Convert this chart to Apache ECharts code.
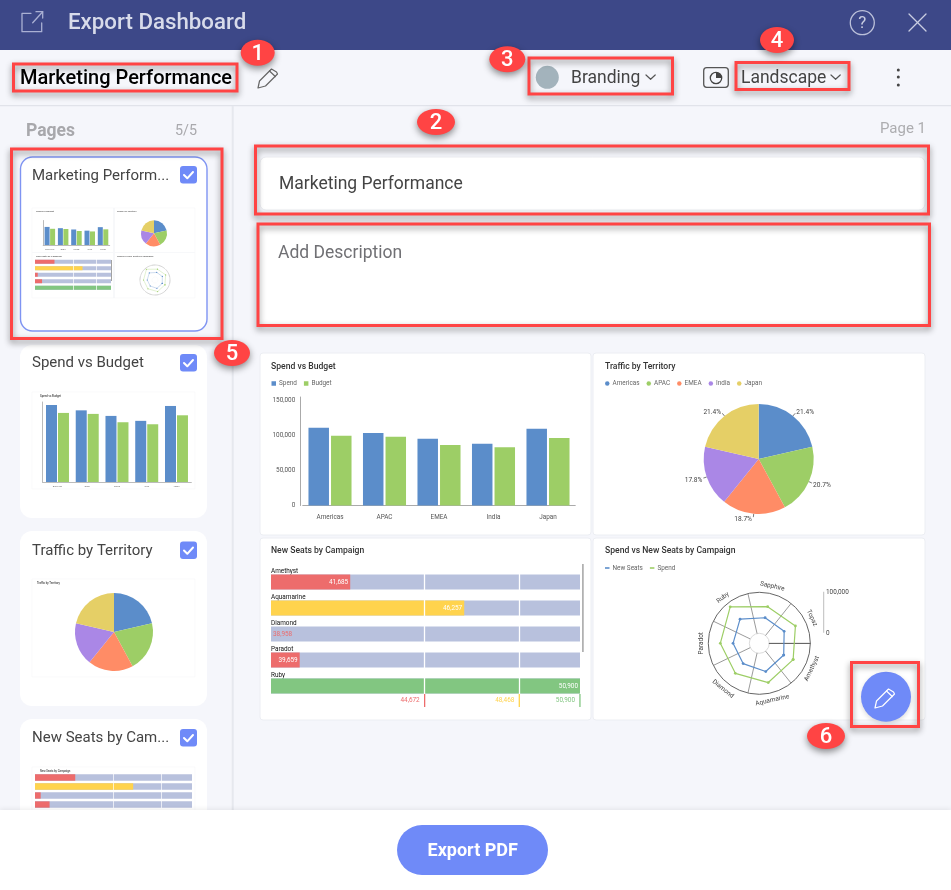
<!DOCTYPE html>
<html><head><meta charset="utf-8"><title>Export Dashboard</title>
<style>html,body{margin:0;padding:0;background:#f5f6fb}#c{width:951px;height:890px}</style>
<script src="https://cdn.jsdelivr.net/npm/echarts@6/dist/echarts.min.js"></script></head>
<body><div id="c"></div>
<script>
// ---- data ----
const territories = ['Americas','APAC','EMEA','India','Japan'];
const spend  = [110700,103000,95000,87900,109300];
const budget = [99300,97900,85900,83000,95900];
const trafficShare = [21.4,20.7,18.7,17.8,21.4];
const campaigns = ['Amethyst','Aquamarine','Diamond','Paradot','Ruby','Sapphire','Topaz'];
const newSeats = [41685,46257,38958,39659,50900,39500,42900];
const campaignSpend = [67200,73800,69300,70700,89400,67300,73400];
const seatBands = [44672,48468,50900];
const seatAxisMin = 38509;
const spendTicks = [0,50000,100000,150000];

// ---- colours ----
const BLUE='#5b8dca', GREEN='#9dce66', ORANGE='#ff8c66', PURPLE='#aa87e6', YEL='#e5cf66';
const PIE=[BLUE,GREEN,ORANGE,PURPLE,YEL];
const RED='#ed6c6c', AMBER='#ffd34d', OK='#82c681', TRACK='#b8c1dd', ACC='#6f8af8', CALL='#ff4444';
const BANDS=[RED,AMBER,OK];
const FONT='Roboto';
const CHART_PX=6.4;
const fmt=v=>Number(v).toLocaleString('en-US');
const bandColor=v=>v<seatBands[0]?RED:v<seatBands[1]?AMBER:OK;

const grid=[],xAxis=[],yAxis=[],series=[],polar=[],angleAxis=[],radiusAxis=[],legend=[],G=[];

// ---- graphic helpers ----
const rect=(x,y,w,h,o={})=>G.push({type:'rect',silent:true,z:o.z??-1,shape:{x,y,width:w,height:h,r:o.r||0},
  style:{fill:o.fill??'none',stroke:o.stroke??null,lineWidth:o.lw||1,shadowBlur:o.blur||0,shadowColor:o.sc||'transparent',shadowOffsetX:o.ox||0,shadowOffsetY:o.oy||0}});
const txt=(x,y,text,font,fill,o={})=>G.push({type:'text',silent:true,z:o.z??1,x,y,style:{text,font,fill,textAlign:o.align||'left',textVerticalAlign:'middle'}});
const poly=(pts,stroke,lw=1.3,z=1)=>G.push({type:'polyline',silent:true,z,shape:{points:pts},style:{stroke,lineWidth:lw,fill:'none',lineJoin:'round',lineCap:'round'}});
const circ=(cx,cy,r,o={})=>G.push({type:'circle',silent:true,z:o.z??1,shape:{cx,cy,r},style:{fill:o.fill??'none',stroke:o.stroke??null,lineWidth:o.lw||1,shadowBlur:o.blur||0,shadowColor:o.sc||'transparent',shadowOffsetY:o.oy||0}});
const redBox=(x,y,w,h)=>rect(x,y,w,h,{stroke:CALL,lw:3,z:60,blur:6,sc:'rgba(0,0,0,.45)',oy:3});
const callout=(cx,cy,n,rx=18)=>{
  G.push({type:'ellipse',silent:true,z:70,shape:{cx,cy,rx,ry:13},style:{fill:CALL,shadowBlur:7,shadowColor:'rgba(0,0,0,.45)',shadowOffsetY:3}});
  txt(cx,cy+1.5,String(n),'500 22px '+FONT,'#fff',{align:'center',z:71});
};
const pencil=(x,y,c,z=1,lw=1.2)=>{
  const p=(a,b)=>[x+a,y+b];
  poly([p(0,0),p(1.5,-7),p(13.5,-19),p(18.5,-16),p(19.5,-14),p(7.5,-2),p(0,0)],c,lw,z);
  poly([p(11.5,-17),p(17.3,-11.5)],c,lw,z);
};
const chevron=(x,y,c='#555')=>poly([[x,y],[x+4.6,y+4.3],[x+9.2,y]],c,1.2);
const checkbox=(x,y)=>{rect(x,y,17,17.5,{r:3,fill:ACC,z:1});poly([[x+4,y+9],[x+7.3,y+12.3],[x+13,y+6]],'#fff',2,2);};

// ---- chart helpers ----
function addSpendBars(b){
  const g=grid.length;
  grid.push({left:b.left,top:b.top,width:b.width,height:b.height,containLabel:false});
  xAxis.push({gridIndex:g,type:'category',data:territories,axisTick:{show:false},
    axisLine:{lineStyle:{color:'#aaa',width:b.small?0.8:1}},
    axisLabel:{show:true,fontSize:b.small?2.2:CHART_PX,color:b.small?'#777':'#555',margin:b.small?3:8.5,fontFamily:FONT}});
  yAxis.push({gridIndex:g,type:'value',min:0,max:b.max,interval:spendTicks[1],offset:b.small?0:2.5,
    splitLine:{show:false},axisTick:{show:false},axisLine:{show:true,lineStyle:{color:'#aaa',width:b.small?0.8:1}},
    axisLabel:{show:!b.small,showMaxLabel:false,fontSize:CHART_PX,color:'#555',margin:5,fontFamily:FONT,formatter:v=>fmt(v)}});
  const common={type:'bar',xAxisIndex:g,yAxisIndex:g,barWidth:b.bw,barGap:b.gap,silent:true};
  series.push({...common,name:'Spend',data:spend,itemStyle:{color:BLUE}});
  series.push({...common,name:'Budget',data:budget,itemStyle:{color:GREEN}});
}
function addSeatRows(b){
  const g=grid.length, cats=campaigns.slice(0,5), vals=newSeats.slice(0,5);
  grid.push({left:b.left,top:b.top,width:b.width,height:b.height});
  xAxis.push({gridIndex:g,type:'value',min:seatAxisMin,max:seatBands[2],show:false});
  yAxis.push({gridIndex:g,type:'category',inverse:true,data:cats,axisLine:{show:false},axisTick:{show:false},splitLine:{show:false},
    axisLabel:{show:!b.small,inside:true,margin:0,align:'left',verticalAlign:'bottom',padding:[0,0,8,0],fontSize:CHART_PX,color:'#111',fontFamily:FONT}});
  series.push({type:'bar',name:'New Seats',silent:true,xAxisIndex:g,yAxisIndex:g,barWidth:b.bw,showBackground:true,backgroundStyle:{color:TRACK},
    data:vals.map((v,i)=>{
      const under=!b.small&&cats[i]==='Diamond';
      return {value:v,itemStyle:{color:under?'transparent':bandColor(v)},
        label:{show:!b.small,position:under?'insideLeft':'insideRight',distance:2,color:under?RED:'#fff',fontSize:CHART_PX,fontFamily:FONT,formatter:p=>fmt(p.value)}};
    }),
    markLine:{silent:true,symbol:'none',label:{show:false},animation:false,lineStyle:{color:'#fff',width:b.small?0.7:1.3,type:'solid'},
      data:seatBands.slice(0,2).map(v=>({xAxis:v}))}});
}
function addBandMarks(b){
  const g=grid.length;
  grid.push({left:b.left,top:b.top,width:b.width,height:b.height});
  xAxis.push({gridIndex:g,type:'value',min:seatAxisMin,max:seatBands[2],show:false});
  yAxis.push({gridIndex:g,type:'value',min:0,max:1,show:false});
  series.push({type:'custom',name:'Seat bands',silent:true,z:20,xAxisIndex:g,yAxisIndex:g,clip:false,
    data:seatBands.map(v=>[v,0]),
    renderItem:(p,api)=>{
      const v=api.value(0), x=api.coord([v,0])[0], c=BANDS[p.dataIndex], s=p.coordSys;
      return {type:'group',children:[
        {type:'rect',shape:{x:x-0.7,y:s.y,width:1.3,height:s.height},style:{fill:c}},
        {type:'text',x:x-5,y:s.y+s.height/2-0.5,style:{text:fmt(v),fill:c,fontSize:CHART_PX,fontFamily:FONT,align:'right',verticalAlign:'middle'}}
      ]};
    }});
}
function addPie(cx,cy,r,small){
  series.push({type:'pie',name:'Traffic',silent:true,center:[cx,cy],radius:[0,r],startAngle:90,clockwise:true,
    data:territories.map((n,i)=>({name:n,value:trafficShare[i],itemStyle:{color:PIE[i]}})),
    label:{show:!small,position:'outside',formatter:'{c}%',fontSize:6.6,color:'#444',fontFamily:FONT},
    labelLine:{show:!small,length:3,length2:0.5,lineStyle:{color:'#555',width:0.8}},
    labelLayout:small?undefined:p=>({dx:(p.labelRect.x+p.labelRect.width/2<cx)?4:-4,dy:(p.labelRect.y+p.labelRect.height/2<cy)?-1.5:2.5}),
    avoidLabelOverlap:false});
}
function addPolar(cx,cy,r0,r1,small){
  const k=polar.length;
  polar.push({center:[cx,cy],radius:[r0,r1]});
  angleAxis.push({polarIndex:k,type:'category',data:campaigns,startAngle:0,clockwise:true,
    axisLine:{show:false},axisTick:{show:false},axisLabel:{show:false},
    splitLine:{show:!small,lineStyle:{color:'#808080',width:0.8}}});
  radiusAxis.push({polarIndex:k,type:'value',min:0,max:100000,interval:100000,
    axisLabel:{show:false},axisTick:{show:false},
    axisLine:{show:!small,lineStyle:{color:'#666',width:1.2}},
    splitLine:{show:true,lineStyle:{color:small?['#f4f4f4','#777']:['#dcdcdc','#666'],width:small?0.6:1,type:small?'dotted':'solid'}}});
  const line=(name,vals,color)=>series.push({type:'line',name,silent:true,coordinateSystem:'polar',polarIndex:k,
    data:vals.concat(vals[0]).map((v,i)=>[v,i%campaigns.length]),showSymbol:true,symbol:'circle',symbolSize:small?1.2:2.8,
    lineStyle:{color,width:small?0.3:1.2},itemStyle:{color},animation:false});
  line('New Seats',newSeats,BLUE);
  line('Spend',campaignSpend,GREEN);
  if(!small) series.push({type:'custom',name:'Campaign labels',silent:true,coordinateSystem:'polar',polarIndex:k,clip:false,
    encode:{radius:0,angle:1},
    data:campaigns.map((c,i)=>[118000,i]),
    renderItem:(p,api)=>{
      const pt=api.coord([api.value(0),api.value(1)]), s=p.coordSys;
      let deg=Math.atan2(s.cy-pt[1],pt[0]-s.cx)*180/Math.PI-90;
      while(deg>90)deg-=180; while(deg<-90)deg+=180;
      return {type:'text',x:pt[0],y:pt[1],rotation:deg*Math.PI/180,
        style:{text:campaigns[p.dataIndex],fontSize:CHART_PX,fontFamily:FONT,fill:'#444',align:'center',verticalAlign:'middle'}};
    }});
}

// ---- page chrome ----
rect(0,0,951,890,{fill:'#f5f6fb',z:-3});
rect(0,0,951,50,{fill:'#3d4888',z:-2});
poly([[41.7,23],[41.7,31.7],[22,31.7],[22,13.3],[31,13.3]],'#aab0d3',1.3);
poly([[32.7,22.7],[42.7,11.7]],'#aab0d3',1.3);poly([[36,11.7],[42.7,11.7],[42.7,18]],'#aab0d3',1.3);
txt(68,23.5,'Export Dashboard','500 22.3px '+FONT,'#d8dbea');
circ(862.3,22.7,12,{stroke:'#bcc1da',lw:1.3});
txt(862.3,24,'?','400 17px '+FONT,'#c9cde1',{align:'center'});
poly([[909,14],[926,31]],'#c9cde1',1.3);poly([[926,14],[909,31]],'#c9cde1',1.3);

txt(20,78.5,'Marketing Performance','500 20px '+FONT,'#000');
pencil(258,88,'#666');
circ(547.3,77.3,11.5,{fill:'#a3b3bc'});
txt(571,78.5,'Branding','400 17.5px '+FONT,'#444');
chevron(646,75);
rect(703.7,67.7,24.6,19.6,{r:3,stroke:'#555',lw:1.3,z:1});
circ(716,78,5.7,{stroke:'#444',lw:1.3});
G.push({type:'sector',silent:true,z:1,shape:{cx:716,cy:78,r:5.7,r0:0,startAngle:-Math.PI/2,endAngle:0},style:{fill:'#444'}});
txt(741,78.5,'Landscape','400 17.5px '+FONT,'#444');
chevron(831,75);
[70,77,85].forEach(y=>circ(898.3,y,1.5,{fill:'#444'}));
rect(0,105,951,1.3,{fill:'#e1e3ea',z:-2});
rect(231.7,106,2,704,{fill:'#e6e8ee',z:-2});

txt(26,132,'Pages','700 17.5px '+FONT,'#a8a8ac');
txt(175,131.5,'5/5','400 14.3px '+FONT,'#a9a9ad');
txt(926,129,'Page 1','400 15px '+FONT,'#adadb0',{align:'right'});

// side cards
rect(20.5,157,186.5,174,{r:12,fill:'#fff',stroke:'#7f94f2',lw:1.4});
rect(20,345,187,173,{r:12,fill:'#fff'});
rect(20,531,187,175,{r:12,fill:'#fff'});
rect(20,719,187,170,{r:12,fill:'#fff'});
[[176,'Marketing Perform...',166],[363,'Spend vs Budget',354],[551,'Traffic by Territory',541.5],[738,'New Seats by Cam...',729]].forEach(([y,t,cb])=>{
  txt(32,y,t,'400 15px '+FONT,'#444');checkbox(180,cb);
});
// thumbnail sheets
rect(32,208,163,90,{fill:'#fff',stroke:'#f6f6f9',lw:0.6});
rect(113.5,208,1,90,{fill:'#f0f1f5'});rect(32,252,163,1,{fill:'#f7f8fa'});
rect(32,392,163,97,{fill:'#fff',stroke:'#f6f6f9',lw:0.6});
rect(32,579,163,98,{fill:'#fff',stroke:'#f6f6f9',lw:0.6});
rect(32,767,163,60,{fill:'#fff',stroke:'#f6f6f9',lw:0.6});
[[36,211.5,'Spend vs Budget'],[117,211.5,'Traffic by Territory'],[36,256,'New Seats by Campaign'],[117,256,'Spend vs New Seats by Campaign']].forEach(([x,y,t])=>txt(x,y,t,'500 2.4px '+FONT,'#555'));
txt(40,396,'Spend vs Budget','500 2.8px '+FONT,'#444');
txt(37,583,'Traffic by Territory','500 2.8px '+FONT,'#444');
txt(40,771,'New Seats by Campaign','500 2.8px '+FONT,'#444');

// main fields
rect(260,157,665,53,{r:6,fill:'#fff',stroke:'#ebecf0',lw:1});
txt(279,184.5,'Marketing Performance','400 17.5px '+FONT,'#444');
rect(259,226,668,98,{fill:'#fff',z:-1});
txt(278,253.5,'Add Description','400 17.5px '+FONT,'#707074');

// dashboard cards
[[260,353,331,182],[593,353,332,182],[260,538,331,182],[593,538,332,182]].forEach(c=>rect(c[0],c[1],c[2],c[3],{r:3,fill:'#fff',stroke:'#eceef3',lw:1}));
txt(271,366.5,'Spend vs Budget','500 8.6px '+FONT,'#333');
txt(605,366.5,'Traffic by Territory','500 8.6px '+FONT,'#333');
txt(271,551,'New Seats by Campaign','500 8.6px '+FONT,'#333');
txt(605,551,'Spend vs New Seats by Campaign','500 8.6px '+FONT,'#333');
rect(582.1,564,1.6,88,{fill:'#a9a9a9',z:6});
// scale key of the polar chart
rect(823.2,591.7,1,41,{fill:'#bdbdbd'});
txt(826,592,'100,000','400 6.4px '+FONT,'#444');
txt(826,633,'0','400 6.4px '+FONT,'#444');

// ---- the charts ----
addSpendBars({left:302.75,top:397,width:272.5,height:108.5,max:154286,bw:20.5,gap:'10%'});
addPie(758.7,459,55,false);
addSeatRows({left:271,top:569,width:309,height:130,bw:15});
addBandMarks({left:271,top:694,width:309,height:13});
addPolar(759.3,643.3,10,51,false);

addSpendBars({left:43.2,top:220.5,width:66.5,height:24.5,max:150000,bw:5,gap:'10%',small:true});
addPie(154,233.3,13,true);
addSeatRows({left:35,top:258.5,width:76,height:32.5,bw:4,small:true});
addPolar(155,280,3,15,true);
addSpendBars({left:42.6,top:402,width:148.75,height:80,max:115000,bw:11,gap:'9%',small:true});
addPie(114,632,39,true);
addSeatRows({left:35,top:773,width:157,height:45,bw:6.3,small:true});
rect(111,260,0.9,21,{fill:'#999',z:6});

const legendText={fontSize:CHART_PX,color:'#666',fontFamily:FONT,padding:[0,0,0,-2]};
legend.push({left:271.5,top:380.5,padding:0,itemWidth:4.5,itemHeight:4.5,itemGap:7,icon:'rect',selectedMode:false,textStyle:legendText,
  data:[{name:'Spend',itemStyle:{color:BLUE}},{name:'Budget',itemStyle:{color:GREEN}}]});
legend.push({left:605,top:380.5,padding:0,itemWidth:4.5,itemHeight:4.5,itemGap:7,icon:'circle',selectedMode:false,textStyle:legendText,
  data:territories.map((n,i)=>({name:n,itemStyle:{color:PIE[i]}}))});
legend.push({left:605,top:565,padding:0,itemWidth:4.5,itemHeight:1.6,itemGap:7,icon:'rect',selectedMode:false,textStyle:legendText,
  data:[{name:'New Seats',itemStyle:{color:BLUE}},{name:'Spend',itemStyle:{color:GREEN}}]});

// ---- overlays ----
rect(0,810,951,80,{fill:'#fff',z:50,blur:5,sc:'rgba(0,0,0,.08)',oy:-1});
rect(397,825,151,50,{r:25,fill:ACC,z:51});
txt(472.7,851.5,'Export PDF','700 18px '+FONT,'#fff',{align:'center',z:52});
circ(886,696.7,25,{fill:ACC,z:55,blur:5,sc:'rgba(0,0,0,.15)',oy:2});
pencil(875,708,'#fff',56,1.2);

redBox(13.5,64,223.5,27);
redBox(529,58,143.5,36);
redBox(736,62.5,113,27);
redBox(255.5,146,673,68);
redBox(258,224,671.5,101.5);
redBox(11.5,149,210.5,189.5);
redBox(851.5,662.5,67,64);
callout(257.7,52.7,1,17);
callout(436,122,2,19);
callout(507.3,59.3,3,18);
callout(777,40,4,17);
callout(232,353,5,18);
callout(826,736,6,19);

const chart=echarts.init(document.getElementById('c'),null,{width:951,height:890});
chart.setOption({animation:false,backgroundColor:'#f5f6fb',textStyle:{fontFamily:FONT},tooltip:{show:false},
  grid,xAxis,yAxis,polar,angleAxis,radiusAxis,legend,series,graphic:{elements:G}});
</script></body></html>
